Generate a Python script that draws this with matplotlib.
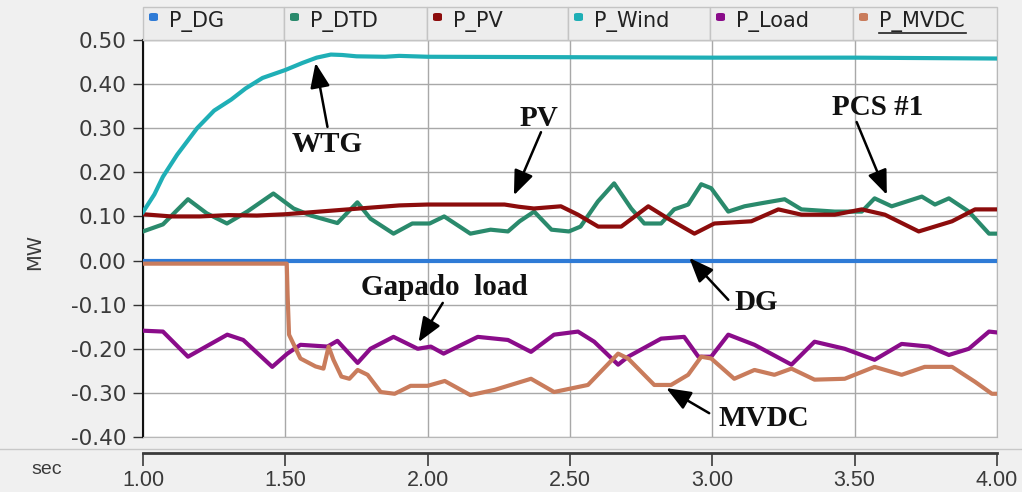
import numpy as np
import matplotlib
matplotlib.use("Agg")
import matplotlib.pyplot as plt
from matplotlib.patches import Rectangle, FancyBboxPatch
from matplotlib.lines import Line2D

###########################################################
### ---------------------- DATA ---------------------------
###########################################################

series_names = ['P_DG', 'P_DTD', 'P_PV', 'P_Wind', 'P_Load', 'P_MVDC']
series_colors = ['#2f7bd6', '#2a8a6c', '#8c0c0c', '#1fafb6', '#8a0c8a', '#c97c5c']

t_dg = [1.0, 4.0]
p_dg = [0.0, 0.0]

t_dtd = [1.00, 1.07, 1.158, 1.224, 1.295, 1.366, 1.458, 1.529, 1.59, 1.683, 1.753,
         1.799, 1.88, 1.946, 2.007, 2.058, 2.15, 2.221, 2.282, 2.323, 2.374, 2.435,
         2.496, 2.537, 2.598, 2.655, 2.715, 2.761, 2.82, 2.866, 2.915, 2.961, 2.996,
         3.056, 3.113, 3.173, 3.254, 3.313, 3.43, 3.525, 3.57, 3.63, 3.736, 3.782,
         3.831, 3.901, 3.972, 4.0]
p_dtd = [0.066, 0.082, 0.139, 0.107, 0.084, 0.111, 0.152, 0.118, 0.102, 0.085, 0.132,
         0.095, 0.061, 0.084, 0.084, 0.100, 0.061, 0.070, 0.066, 0.089, 0.111, 0.070,
         0.066, 0.077, 0.134, 0.175, 0.118, 0.084, 0.084, 0.116, 0.127, 0.173, 0.164,
         0.111, 0.123, 0.130, 0.139, 0.116, 0.111, 0.111, 0.141, 0.123, 0.145, 0.127,
         0.141, 0.111, 0.061, 0.061]

t_pv = [1.00, 1.10, 1.20, 1.30, 1.40, 1.50, 1.60, 1.70, 1.80, 1.90, 2.00, 2.27,
        2.32, 2.373, 2.468, 2.528, 2.599, 2.68, 2.775, 2.845, 2.937, 3.007, 3.137,
        3.232, 3.313, 3.43, 3.525, 3.606, 3.725, 3.842, 3.923, 4.00]
p_pv = [0.105, 0.100, 0.100, 0.103, 0.102, 0.105, 0.110, 0.115, 0.120, 0.125, 0.127, 0.127,
        0.122, 0.118, 0.123, 0.104, 0.077, 0.077, 0.123, 0.095, 0.061, 0.084, 0.089,
        0.116, 0.104, 0.104, 0.116, 0.104, 0.066, 0.089, 0.116, 0.116]

t_wind = [1.00, 1.04, 1.07, 1.12, 1.19, 1.25, 1.31, 1.36, 1.42, 1.50, 1.56, 1.61,
          1.66, 1.70, 1.75, 1.85, 1.90, 2.00, 2.50, 3.00, 3.50, 4.00]
p_wind = [0.110, 0.150, 0.190, 0.240, 0.300, 0.340, 0.365, 0.390, 0.414, 0.432, 0.448, 0.460,
          0.467, 0.466, 0.463, 0.462, 0.464, 0.462, 0.461, 0.460, 0.460, 0.458]

t_load = [1.0, 1.07, 1.158, 1.296, 1.352, 1.454, 1.507, 1.553, 1.648, 1.683, 1.754,
          1.799, 1.88, 1.965, 2.011, 2.056, 2.176, 2.282, 2.363, 2.444, 2.528, 2.585,
          2.669, 2.704, 2.82, 2.901, 2.951, 2.996, 3.056, 3.148, 3.278, 3.359, 3.465,
          3.57, 3.665, 3.761, 3.831, 3.901, 3.972, 4.0]
p_load = [-0.159, -0.161, -0.218, -0.168, -0.180, -0.241, -0.211, -0.191, -0.195, -0.182, -0.232,
          -0.200, -0.173, -0.200, -0.195, -0.211, -0.173, -0.180, -0.207, -0.168, -0.161, -0.184,
          -0.236, -0.218, -0.177, -0.173, -0.218, -0.218, -0.168, -0.191, -0.236, -0.184, -0.200,
          -0.225, -0.189, -0.195, -0.214, -0.200, -0.161, -0.163]

t_mvdc = [1.0, 1.505, 1.508, 1.513, 1.553, 1.606, 1.634, 1.652, 1.669, 1.697, 1.725,
          1.754, 1.789, 1.835, 1.884, 1.94, 2.0, 2.06, 2.15, 2.236, 2.363, 2.444,
          2.563, 2.669, 2.704, 2.796, 2.855, 2.915, 2.961, 2.996, 3.077, 3.148, 3.218,
          3.278, 3.359, 3.465, 3.57, 3.665, 3.746, 3.842, 3.923, 3.982, 4.0]
p_mvdc = [-0.007, -0.007, -0.078, -0.168, -0.222, -0.240, -0.245, -0.195, -0.225, -0.263, -0.268,
          -0.248, -0.259, -0.298, -0.302, -0.284, -0.284, -0.273, -0.305, -0.293, -0.268, -0.298,
          -0.282, -0.211, -0.222, -0.282, -0.282, -0.259, -0.218, -0.222, -0.268, -0.248, -0.259,
          -0.245, -0.270, -0.268, -0.241, -0.259, -0.241, -0.241, -0.275, -0.302, -0.302]

x_ticks = [1.0, 1.5, 2.0, 2.5, 3.0, 3.5, 4.0]
y_ticks = [0.5, 0.4, 0.3, 0.2, 0.1, 0.0, -0.1, -0.2, -0.3, -0.4]

# (label, text centre, arrow tail, arrow tip)
notes = [
    ('WTG', (1.648, 0.262), (1.648, 0.303), (1.606, 0.448)),
    ('PV', (2.391, 0.321), (2.398, 0.291), (2.303, 0.148)),
    ('PCS #1', (3.581, 0.346), (3.507, 0.314), (3.613, 0.149)),
    ('Gapado  load', (2.06, -0.062), (2.053, -0.096), (1.968, -0.185)),
    ('DG', (3.155, -0.096), (3.056, -0.089), (2.919, 0.006)),
    ('MVDC', (3.18, -0.357), (2.989, -0.346), (2.838, -0.289)),
]

###########################################################
### ---------------------- PLOT ---------------------------
###########################################################

W, H = 1022, 492
fig = plt.figure(figsize=(W / 100, H / 100), dpi=100)
fig.patch.set_facecolor('#f0f0f0')

def fx(px):
    return px / W

def fy(py):
    return 1 - py / H

ax = fig.add_axes([fx(143), fy(437), fx(997) - fx(143), fy(40) - fy(437)])
ax.set_facecolor('white')
ax.set_xlim(1.0, 4.0)
ax.set_ylim(-0.40, 0.50)

series = [(t_dg, p_dg), (t_dtd, p_dtd), (t_pv, p_pv), (t_wind, p_wind),
          (t_load, p_load), (t_mvdc, p_mvdc)]
order = [5, 0, 1, 2, 3, 4]
for i in order:
    t, p = series[i]
    ax.plot(t, p, color=series_colors[i], lw=3.0, solid_joinstyle='round', zorder=3 + i * 0.1)

ax.set_xticks(x_ticks)
ax.set_yticks(y_ticks)
ax.set_yticklabels(['%.2f' % v for v in y_ticks])
ax.tick_params(axis='x', length=0, labelbottom=False)
ax.tick_params(axis='y', direction='out', length=7, width=1, color='#333333',
               labelsize=15.5, labelcolor='#3a3a3a', pad=5)
ax.grid(True, color='#a8a8a8', lw=1.0, zorder=1)
for s in ['top', 'right', 'bottom']:
    ax.spines[s].set_color('#b8b8b8')
ax.spines['left'].set_color('#111111')
ax.spines['left'].set_linewidth(1.5)

ax.set_ylabel('MW', fontsize=14, color='#3a3a3a', labelpad=0)
ax.yaxis.set_label_coords(fx(25) - fx(143), (fy(252) - fy(437)) / (fy(40) - fy(437)))

for label, txt, tail, tip in notes:
    ax.text(txt[0], txt[1], label, ha='center', va='center', fontsize=21,
            fontweight='bold', family='Liberation Serif', color='#111111', zorder=10)
    ax.annotate('', xy=tip, xytext=tail,
                arrowprops=dict(arrowstyle='-|>,head_length=0.75,head_width=0.3',
                                mutation_scale=20, color='black', lw=1.8,
                                shrinkA=0, shrinkB=0),
                zorder=10)

# legend header
cell_edges = [143, 284, 427, 568, 710, 853, 997]
for i, name in enumerate(series_names):
    x0, x1 = cell_edges[i], cell_edges[i + 1]
    fig.patches.append(Rectangle((fx(x0), fy(40)), fx(x1) - fx(x0), fy(7) - fy(40),
                                 transform=fig.transFigure, facecolor='#ededed',
                                 edgecolor='#c4c4c4', lw=1.0))
    fig.patches.append(FancyBboxPatch((fx(x0 + 6), fy(21)), fx(9), fy(0) - fy(8),
                                      boxstyle='round,pad=0,rounding_size=0.003',
                                      transform=fig.transFigure,
                                      facecolor=series_colors[i], edgecolor='none'))
    fig.text(fx(x0 + 26), fy(22), name, fontsize=15, color='#222222',
             ha='left', va='center')
# underline on the last legend entry
fig.lines.append(Line2D([fx(879), fx(966)], [fy(33), fy(33)], transform=fig.transFigure,
                        color='#222222', lw=1.2))

# separator and time axis
fig.lines.append(Line2D([0, 1], [fy(449), fy(449)], transform=fig.transFigure,
                        color='#c8c8c8', lw=1.0))
ax2 = fig.add_axes([fx(143), fy(453), fx(997) - fx(143), 0.0001])
ax2.set_xlim(1.0, 4.0)
ax2.patch.set_visible(False)
for s in ['top', 'right', 'left']:
    ax2.spines[s].set_visible(False)
ax2.spines['bottom'].set_color('#3a3a3a')
ax2.spines['bottom'].set_linewidth(2.0)
ax2.set_yticks([])
ax2.set_xticks(x_ticks)
ax2.set_xticklabels(['%.2f' % v for v in x_ticks])
ax2.tick_params(axis='x', direction='out', length=9, width=1.2, color='#3a3a3a',
                labelsize=15.5, labelcolor='#3a3a3a', pad=3)
for lab in ax2.get_xticklabels():
    lab.set_family('Liberation Sans')

fig.text(fx(47), fy(470), 'sec', fontsize=14, color='#3a3a3a', ha='center', va='center',
         family='Liberation Sans')

plt.savefig('out.png', dpi=100, facecolor=fig.get_facecolor())
